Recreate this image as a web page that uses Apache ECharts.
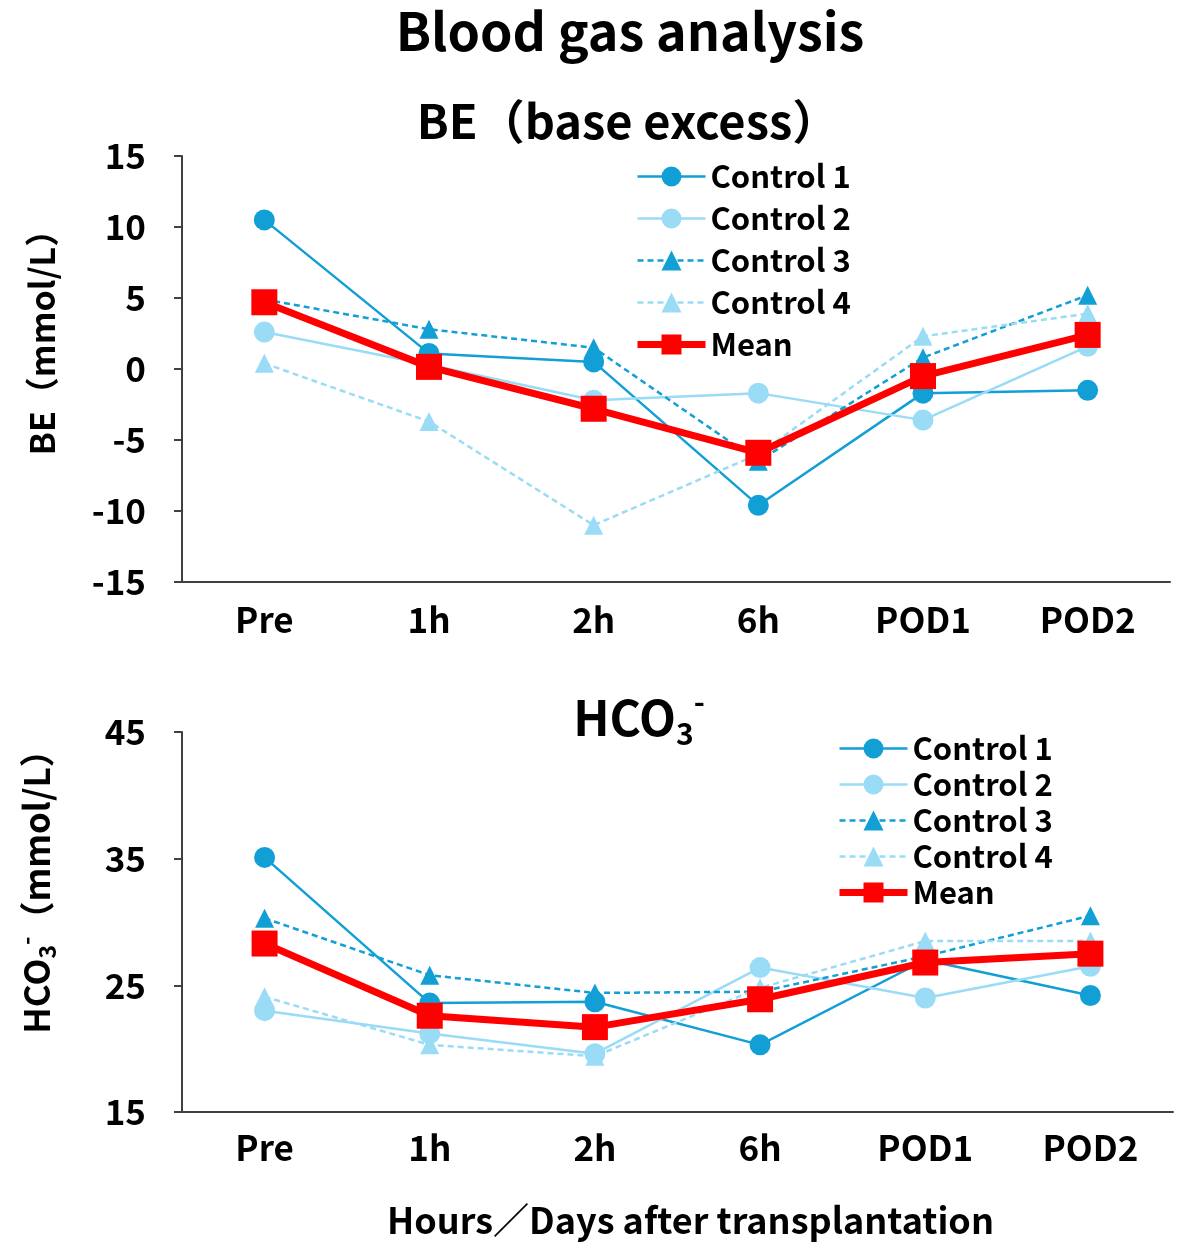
<!DOCTYPE html>
<html>
<head>
<meta charset="utf-8">
<script src="https://cdn.jsdelivr.net/npm/echarts@6/dist/echarts.min.js"></script>
<style>
html,body{margin:0;padding:0;background:#fff;}
#main{width:1178px;height:1246px;}
</style>
</head>
<body>
<div id="main"></div>
<script>
// ---- data ----
const categories = ['Pre', '1h', '2h', '6h', 'POD1', 'POD2'];
const seriesNames = ['Control 1', 'Control 2', 'Control 3', 'Control 4', 'Mean'];

const beControl1 = [10.5, 1.1, 0.5, -9.6, -1.7, -1.5];
const beControl2 = [2.6, 0.3, -2.2, -1.7, -3.6, 1.6];
const beControl3 = [4.9, 2.8, 1.5, -6.5, 0.8, 5.2];
const beControl4 = [0.4, -3.7, -11.0, -6.0, 2.3, 3.9];
const beMean = [4.7, 0.15, -2.8, -5.9, -0.5, 2.4];

const hcoControl1 = [35.1, 23.6, 23.7, 20.3, 27.0, 24.2];
const hcoControl2 = [23.0, 21.2, 19.6, 26.4, 24.0, 26.5];
const hcoControl3 = [30.3, 25.8, 24.4, 24.5, 27.3, 30.5];
const hcoControl4 = [24.1, 20.3, 19.4, 24.8, 28.5, 28.5];
const hcoMean = [28.3, 22.6, 21.7, 23.9, 26.8, 27.5];

const beTicks = [-15, -10, -5, 0, 5, 10, 15];
const hcoTicks = [15, 25, 35, 45];

// ---- styles ----
const FONT = '"Noto Sans CJK JP", "Noto Sans", sans-serif';
const DARK = '#129fd6';
const LIGHT = '#9adbf6';
const RED = '#ff0000';
const AXIS = '#404040';

function styleFor(name) {
  switch (name) {
    case 'Control 1': return {color: DARK, type: 'solid', width: 2.5, symbol: 'circle', size: 21};
    case 'Control 2': return {color: LIGHT, type: 'solid', width: 2.5, symbol: 'circle', size: 21};
    case 'Control 3': return {color: DARK, type: [6, 4], width: 2.5, symbol: 'triangle', size: 19};
    case 'Control 4': return {color: LIGHT, type: [6, 4], width: 2.5, symbol: 'triangle', size: 19};
    default: return {color: RED, type: 'solid', width: 7, symbol: 'rect', size: 26};
  }
}

function makeSeries(name, data, idx) {
  const s = styleFor(name);
  return {
    name: name,
    type: 'line',
    xAxisIndex: idx,
    yAxisIndex: idx,
    data: data,
    symbol: s.symbol,
    symbolSize: s.size,
    showAllSymbol: true,
    lineStyle: {color: s.color, type: s.type, width: s.width},
    itemStyle: {color: s.color},
    emphasis: {disabled: true},
    animation: false,
    z: name === 'Mean' ? 5 : 3
  };
}

const beData = [beControl1, beControl2, beControl3, beControl4, beMean];
const hcoData = [hcoControl1, hcoControl2, hcoControl3, hcoControl4, hcoMean];

const series = [];
seriesNames.forEach((n, i) => series.push(makeSeries(n, beData[i], 0)));
seriesNames.forEach((n, i) => series.push(makeSeries(n, hcoData[i], 1)));

const legendItems = seriesNames.map(n => {
  const s = styleFor(n);
  return {name: n, lineStyle: {width: s.width, type: s.type, color: s.color}, itemStyle: {color: s.color}};
});

function xAxisCfg(gridIndex, margin, extra) {
  return Object.assign({
    type: 'category',
    gridIndex: gridIndex,
    data: categories,
    boundaryGap: true,
    axisLine: {show: true, onZero: false, lineStyle: {color: AXIS, width: 2}},
    axisTick: {show: false},
    axisLabel: {color: '#000', fontFamily: FONT, fontWeight: 'bold', fontSize: 35, margin: margin},
    splitLine: {show: false}
  }, extra || {});
}

function yAxisCfg(gridIndex, min, max, interval, extra) {
  return Object.assign({
    type: 'value',
    gridIndex: gridIndex,
    min: min, max: max, interval: interval,
    axisLine: {show: true, onZero: false, lineStyle: {color: AXIS, width: 2}},
    axisTick: {show: true, inside: false, length: 8, lineStyle: {color: AXIS, width: 2}},
    axisLabel: {color: '#000', fontFamily: FONT, fontWeight: 'bold', fontSize: 35, margin: 36},
    splitLine: {show: false}
  }, extra || {});
}

const legendText = {color: '#000', fontFamily: FONT, fontWeight: 'bold', fontSize: 31, lineHeight: 30};

const option = {
  backgroundColor: '#fff',
  animation: false,
  textStyle: {fontFamily: FONT},
  title: [
    {text: 'Blood gas analysis', left: 625, top: 0, textAlign: 'center',
     textStyle: {fontFamily: FONT, fontWeight: 'bold', fontSize: 52, color: '#000'}},
    {text: 'BE（base excess）', left: 623, top: 93, textAlign: 'center',
     textStyle: {fontFamily: FONT, fontWeight: 'bold', fontSize: 47, color: '#000'}},
    {text: '{m|HCO}{sub|3}{sup|-}', left: 634, top: 682, textAlign: 'center',
     textStyle: {fontFamily: FONT, fontWeight: 'bold', fontSize: 48, color: '#000',
       rich: {
         m: {fontFamily: FONT, fontWeight: 'bold', fontSize: 48, color: '#000', lineHeight: 62, verticalAlign: 'middle'},
         sub: {fontFamily: FONT, fontWeight: 'bold', fontSize: 30, color: '#000', lineHeight: 30, verticalAlign: 'bottom'},
         sup: {fontFamily: FONT, fontWeight: 'bold', fontSize: 30, color: '#000', lineHeight: 30, verticalAlign: 'top'}
       }}}
  ],
  legend: [
    {data: legendItems, orient: 'vertical', left: 634, top: 161, itemWidth: 68, itemHeight: 25,
     itemGap: 11, textStyle: legendText, selectedMode: false, padding: 0},
    {data: legendItems, orient: 'vertical', left: 836, top: 733, itemWidth: 68, itemHeight: 25,
     itemGap: 5, textStyle: legendText, selectedMode: false, padding: 0}
  ],
  grid: [
    {left: 182, top: 156, width: 988, height: 426, containLabel: false, outerBoundsMode: 'none'},
    {left: 182, top: 732, width: 991, height: 380, containLabel: false, outerBoundsMode: 'none'}
  ],
  xAxis: [
    xAxisCfg(0, 20),
    xAxisCfg(1, 18, {
      name: 'Hours／Days after transplantation', nameLocation: 'middle', nameGap: 90,
      nameTextStyle: {color: '#000', fontFamily: FONT, fontWeight: 'bold', fontSize: 36, padding: [0, 0, 0, 26]}
    })
  ],
  yAxis: [
    yAxisCfg(0, beTicks[0], beTicks[beTicks.length - 1], 5, {
      name: 'BE（mmol/L）', nameLocation: 'middle', nameRotate: 90, nameGap: 123,
      nameTextStyle: {color: '#000', fontFamily: FONT, fontWeight: 'bold', fontSize: 34, padding: [0, 0, 0, 70]}
    }),
    yAxisCfg(1, hcoTicks[0], hcoTicks[hcoTicks.length - 1], 10, {
      name: '{m|HCO}{sub|3}{sup|-}{m|（mmol/L）}', nameLocation: 'middle', nameRotate: 90, nameGap: 123,
      nameTextStyle: {color: '#000', fontFamily: FONT, fontWeight: 'bold', fontSize: 35, padding: [0, 0, 0, 78],
        rich: {
          m: {fontFamily: FONT, fontWeight: 'bold', fontSize: 35, color: '#000', lineHeight: 44, verticalAlign: 'middle'},
          sub: {fontFamily: FONT, fontWeight: 'bold', fontSize: 23, color: '#000', lineHeight: 23, verticalAlign: 'bottom'},
          sup: {fontFamily: FONT, fontWeight: 'bold', fontSize: 23, color: '#000', lineHeight: 23, verticalAlign: 'top'}
        }}
    })
  ],
  series: series
};

const chart = echarts.init(document.getElementById('main'), null, {renderer: 'canvas'});
chart.setOption(option);
</script>
</body>
</html>
